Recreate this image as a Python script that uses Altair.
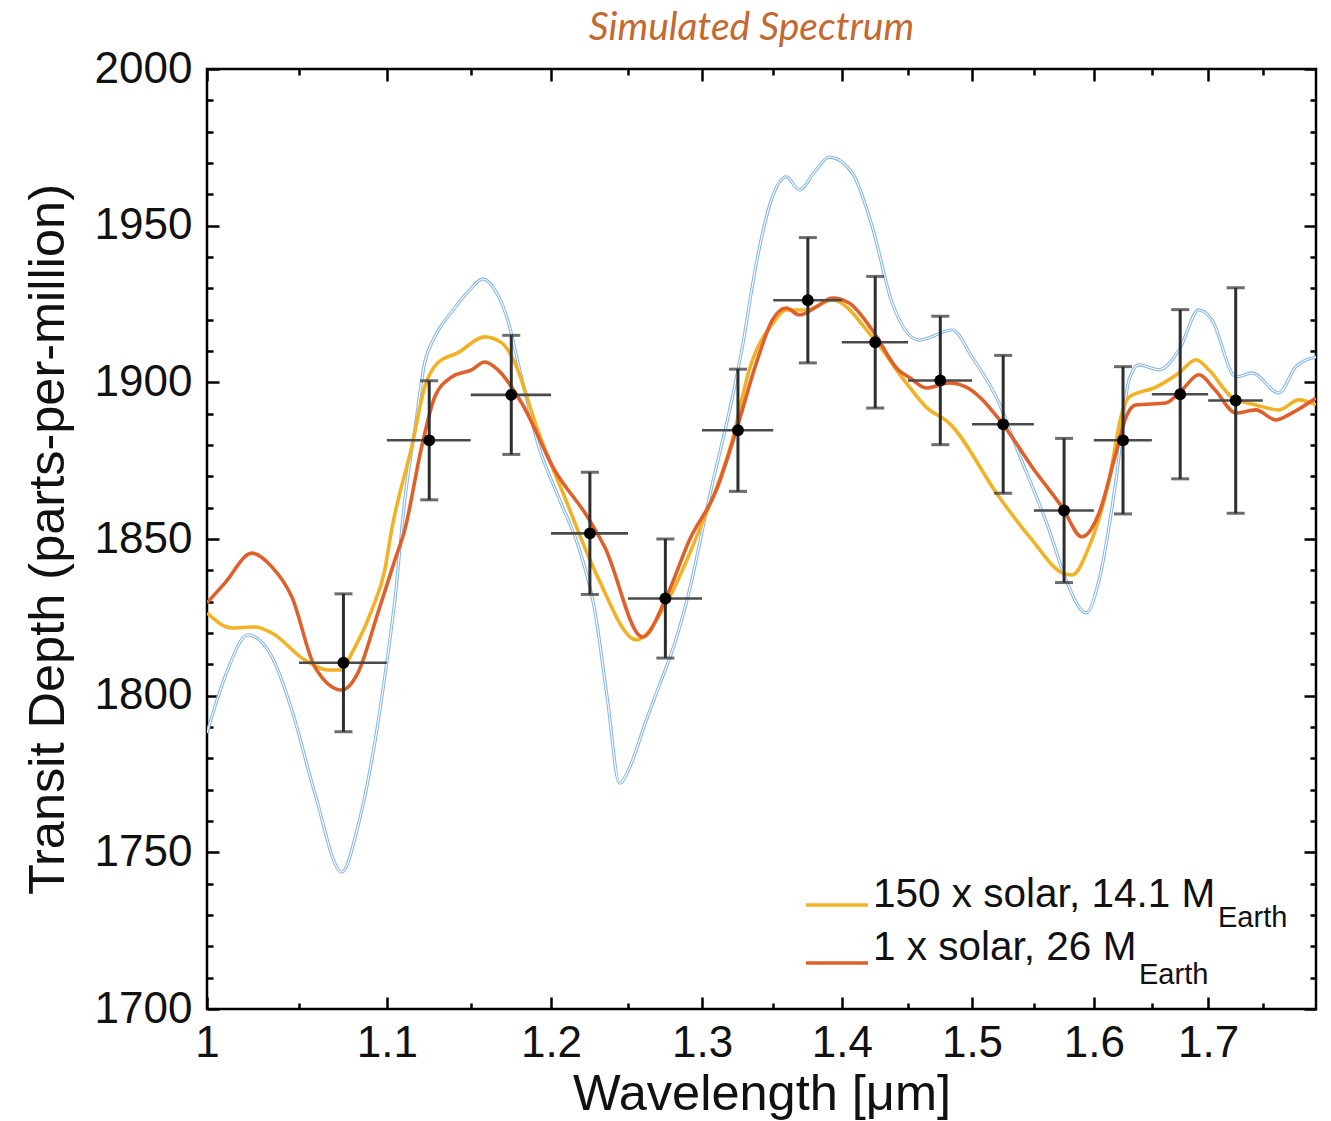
import altair as alt
import pandas as pd

# ---------------- data ----------------
# thin blue model curve
blue_wl = [1.000, 1.0096, 1.0220, 1.0350, 1.0460, 1.0588, 1.0741, 1.0832, 1.0913, 1.0988,
           1.1047, 1.1105, 1.1164, 1.1223, 1.1283, 1.1385, 1.1494, 1.1574, 1.1648, 1.1722,
           1.1803, 1.1915, 1.2055, 1.2183, 1.2281, 1.2365, 1.2444, 1.2523, 1.2610, 1.2710,
           1.2812, 1.2914, 1.3051, 1.3211, 1.3281, 1.3380, 1.3494, 1.3594, 1.3688, 1.3800,
           1.3907, 1.4078, 1.4228, 1.4379, 1.4586, 1.4843, 1.5000, 1.5217, 1.5355, 1.5626,
           1.5767, 1.5935, 1.6045, 1.6190, 1.6302, 1.6388, 1.6562, 1.6739, 1.6917, 1.7034,
           1.7252, 1.7400, 1.7649, 1.7808, 1.8000]
blue_ppm = [1788.1, 1806.0, 1819.4, 1812.4, 1795.4, 1768.9, 1743.7, 1758.1, 1779.5, 1806.0,
            1830.5, 1862.5, 1884.8, 1906.2, 1914.5, 1922.5, 1929.5, 1933.0, 1929.5, 1920.9,
            1904.0, 1880.7, 1862.5, 1846.5, 1827.4, 1798.6, 1772.1, 1778.5, 1790.6, 1803.4,
            1816.5, 1833.7, 1863.4, 1895.3, 1911.3, 1938.1, 1959.2, 1965.6, 1961.4, 1967.2,
            1971.9, 1966.8, 1949.6, 1925.3, 1913.5, 1916.7, 1908.1, 1893.4, 1879.4, 1852.9,
            1836.9, 1826.4, 1836.9, 1868.8, 1900.8, 1905.6, 1904.0, 1910.3, 1923.1, 1919.9,
            1901.7, 1903.0, 1896.6, 1904.9, 1908.1]

# 150 x solar, 14.1 M_Earth (yellow)
yel_wl = [1.000, 1.0133, 1.0258, 1.0350, 1.0532, 1.0662, 1.0741, 1.0798, 1.0913, 1.0988,
          1.1028, 1.1146, 1.1223, 1.1300, 1.1421, 1.1586, 1.1691, 1.1772, 1.1915, 1.2087,
          1.2300, 1.2557, 1.2757, 1.2982, 1.3211, 1.3330, 1.3500, 1.3594, 1.3739, 1.3930,
          1.4228, 1.4486, 1.4640, 1.4820, 1.5217, 1.5485, 1.5733, 1.5817, 1.5960, 1.6130,
          1.6241, 1.6302, 1.6536, 1.6739, 1.6892, 1.7006, 1.7215, 1.7435, 1.7649, 1.7837,
          1.8000]
yel_ppm = [1826.4, 1821.6, 1821.9, 1820.0, 1811.4, 1808.2, 1808.2, 1813.6, 1827.4, 1840.1,
           1852.9, 1879.4, 1898.5, 1906.2, 1909.4, 1914.5, 1912.6, 1906.2, 1884.8, 1863.4,
           1837.9, 1817.8, 1829.6, 1852.9, 1881.6, 1904.0, 1919.0, 1923.1, 1923.1, 1926.3,
           1914.5, 1899.8, 1892.1, 1887.0, 1863.4, 1849.7, 1839.2, 1838.5, 1847.5, 1868.8,
           1890.2, 1895.3, 1898.5, 1903.0, 1907.2, 1904.0, 1895.3, 1892.8, 1891.2, 1894.4,
           1892.8]

# 1 x solar, 26 M_Earth (red)
red_wl = [1.000, 1.0096, 1.0241, 1.0350, 1.0460, 1.0588, 1.0741, 1.0832, 1.0948, 1.1047,
          1.1105, 1.1205, 1.1283, 1.1385, 1.1506, 1.1586, 1.1667, 1.1815, 1.2023, 1.2235,
          1.2346, 1.2597, 1.2757, 1.2914, 1.3100, 1.3239, 1.3380, 1.3494, 1.3594, 1.3688,
          1.3812, 1.3930, 1.4054, 1.4228, 1.4424, 1.4516, 1.4640, 1.4820, 1.4954, 1.5241,
          1.5485, 1.5733, 1.5900, 1.6045, 1.6190, 1.6277, 1.6363, 1.6624, 1.6766, 1.6917,
          1.7061, 1.7252, 1.7435, 1.7620, 1.7770, 1.8000]
red_ppm = [1829.6, 1836.0, 1845.5, 1841.1, 1831.5, 1809.2, 1801.8, 1807.2, 1826.4, 1843.3,
           1852.9, 1879.4, 1895.3, 1901.7, 1904.0, 1906.5, 1904.0, 1893.4, 1872.0, 1857.0,
           1847.5, 1818.7, 1831.5, 1849.7, 1865.7, 1884.8, 1906.2, 1919.9, 1923.7, 1921.5,
           1924.1, 1926.9, 1925.3, 1916.7, 1904.0, 1901.4, 1898.2, 1899.8, 1898.5, 1887.0,
           1873.0, 1860.2, 1850.7, 1858.3, 1877.5, 1889.0, 1892.8, 1893.4, 1897.6, 1902.4,
           1897.6, 1890.2, 1891.2, 1888.0, 1890.2, 1895.0]

# simulated data points
pt_wl = [1.075, 1.125, 1.175, 1.225, 1.275, 1.325, 1.375, 1.425, 1.475, 1.525, 1.575, 1.625, 1.675, 1.725]
pt_ppm = [1810.5, 1881.5, 1896.0, 1851.8, 1831.0, 1884.7, 1926.2, 1912.8, 1900.6, 1886.6, 1859.1, 1881.5, 1896.2, 1894.2]
pt_err = [22.0, 19.0, 19.0, 19.5, 19.0, 19.5, 20.0, 21.0, 20.5, 22.0, 23.0, 23.5, 27.0, 36.0]
bin_lo = [1.05, 1.10, 1.15, 1.20, 1.25, 1.30, 1.35, 1.40, 1.45, 1.50, 1.55, 1.60, 1.65, 1.70]
bin_hi = [1.10, 1.15, 1.20, 1.25, 1.30, 1.35, 1.40, 1.45, 1.50, 1.55, 1.60, 1.65, 1.70, 1.75]

# ticks and texts
x_major = [1.0, 1.1, 1.2, 1.3, 1.4, 1.5, 1.6, 1.7]
x_minor = [1.05, 1.15, 1.25, 1.35, 1.45, 1.55, 1.65, 1.75]
y_major = [1700, 1750, 1800, 1850, 1900, 1950, 2000]
y_minor = [1710, 1720, 1730, 1740, 1760, 1770, 1780, 1790, 1810, 1820, 1830, 1840,
           1860, 1870, 1880, 1890, 1910, 1920, 1930, 1940, 1960, 1970, 1980, 1990]
legend_main = ["150 x solar, 14.1 M", "1 x solar, 26 M"]
legend_sub = ["Earth", "Earth"]
title_text = "Simulated Spectrum"
x_title = "Wavelength [\u03bcm]"
y_title = "Transit Depth (parts-per-million)"

# ---------------- styling ----------------
FONT = "Liberation Sans"
W, H = 1109, 940
BLUE = "#86b6e3"
YELLOW = "#f2b226"
RED = "#e0602b"
INK = "#111111"

xs = alt.Scale(type="log", domain=[1.0, 1.8], nice=False)
ys = alt.Scale(domain=[1700, 2000], nice=False, zero=False)

df_blue = pd.DataFrame({"wl": blue_wl, "ppm": blue_ppm})
df_yel = pd.DataFrame({"wl": yel_wl, "ppm": yel_ppm})
df_red = pd.DataFrame({"wl": red_wl, "ppm": red_ppm})
df_pts = pd.DataFrame({
    "wl": pt_wl, "ppm": pt_ppm,
    "lo": [p - e for p, e in zip(pt_ppm, pt_err)],
    "hi": [p + e for p, e in zip(pt_ppm, pt_err)],
    "blo": bin_lo, "bhi": bin_hi,
})
one = pd.DataFrame({"k": [0]})


def xq(f="wl"):
    return alt.X(f"{f}:Q", scale=xs, axis=None)


def yq(f="ppm"):
    return alt.Y(f"{f}:Q", scale=ys, axis=None)


def line(df, color, width):
    return alt.Chart(df).mark_line(color=color, strokeWidth=width, interpolate="monotone",
                                   clip=True).encode(x=xq(), y=yq())


common = dict(domain=False, grid=False, tickColor="black", tickWidth=2.5)
lab = dict(labelFont=FONT, labelFontSize=44, labelColor=INK)
ttl = dict(titleFont=FONT, titleFontSize=50.5, titleFontWeight="normal", titleColor=INK)

ax_bottom = alt.Axis(orient="bottom", values=x_major, format=".1~f", tickSize=12, offset=-12,
                     labelPadding=12, labelFlush=False, labelOverlap=False,
                     title=x_title, titleBaseline="alphabetic", titleY=112, **lab, **ttl, **common)
ax_left = alt.Axis(orient="left", values=y_major, format="d", tickSize=12, offset=-12,
                   labelPadding=15, labelFlush=False, labelOverlap=False,
                   title=y_title, titleAngle=270, titleBaseline="alphabetic", titleX=-156,
                   **lab, **ttl, **common)
ax_bottom_minor = alt.Axis(orient="bottom", values=x_minor, tickSize=6, offset=-6, labels=False, title="", **common)
ax_left_minor = alt.Axis(orient="left", values=y_minor, tickSize=6, offset=-6, labels=False, title="", **common)
ax_top = alt.Axis(orient="top", values=x_major, tickSize=12, offset=-12, labels=False, title="", **common)
ax_right = alt.Axis(orient="right", values=y_major, tickSize=12, offset=-12, labels=False, title="", **common)
ax_top_minor = alt.Axis(orient="top", values=x_minor, tickSize=6, offset=-6, labels=False, title="", **common)
ax_right_minor = alt.Axis(orient="right", values=y_minor, tickSize=6, offset=-6, labels=False, title="", **common)


def axes_layer(xa, ya):
    return alt.Chart(df_pts).mark_point(opacity=0).encode(
        x=alt.X("wl:Q", scale=xs, axis=xa),
        y=alt.Y("ppm:Q", scale=ys, axis=ya),
    )


LEG_MAIN = dict(align="left", baseline="alphabetic", font=FONT, fontSize=40.5, color=INK)
LEG_SUB = dict(align="left", baseline="alphabetic", font=FONT, fontSize=29, color=INK)

layers = [
    axes_layer(ax_bottom, ax_left),
    axes_layer(ax_bottom_minor, ax_left_minor),
    axes_layer(ax_top, ax_right),
    axes_layer(ax_top_minor, ax_right_minor),
    line(df_blue, BLUE, 3.2),
    line(df_blue, "white", 1.1),
    line(df_yel, YELLOW, 3.6),
    line(df_red, RED, 3.6),
    alt.Chart(df_pts).mark_rule(color="#4a4a4a", strokeWidth=2.6).encode(
        x=xq("blo"), x2=alt.X2("bhi:Q"), y=yq()),
    alt.Chart(df_pts).mark_rule(color="#2e2e2e", strokeWidth=3).encode(
        x=xq(), y=yq("lo"), y2=alt.Y2("hi:Q")),
    alt.Chart(df_pts).mark_tick(orient="horizontal", size=18, thickness=3, color="#2e2e2e").encode(
        x=xq(), y=yq("lo")),
    alt.Chart(df_pts).mark_tick(orient="horizontal", size=18, thickness=3, color="#2e2e2e").encode(
        x=xq(), y=yq("hi")),
    alt.Chart(df_pts).mark_circle(size=140, color="black", opacity=1).encode(x=xq(), y=yq()),
    # legend (drawn by hand to allow the subscripts)
    alt.Chart(one).mark_rule(color=YELLOW, strokeWidth=3.6).encode(
        x=alt.value(599), x2=alt.value(661), y=alt.value(836)),
    alt.Chart(one).mark_rule(color=RED, strokeWidth=3.6).encode(
        x=alt.value(599), x2=alt.value(661), y=alt.value(894)),
    alt.Chart(one).mark_text(**LEG_MAIN).encode(
        x=alt.value(666), y=alt.value(838), text=alt.value(legend_main[0])),
    alt.Chart(one).mark_text(**LEG_SUB).encode(
        x=alt.value(1011), y=alt.value(858), text=alt.value(legend_sub[0])),
    alt.Chart(one).mark_text(**LEG_MAIN).encode(
        x=alt.value(666), y=alt.value(891), text=alt.value(legend_main[1])),
    alt.Chart(one).mark_text(**LEG_SUB).encode(
        x=alt.value(932), y=alt.value(915), text=alt.value(legend_sub[1])),
]

chart = alt.layer(*layers).resolve_axis(
    x="independent", y="independent"
).properties(
    width=W, height=H,
    title=alt.TitleParams(title_text, font="Lato", fontStyle="italic", fontSize=39,
                          fontWeight="normal", color="#c4692f", anchor="middle",
                          frame="group", baseline="alphabetic", offset=4, dy=36, dx=-10),
    autosize=alt.AutoSizeParams(type="none"),
    padding={"left": 207, "top": 69, "right": 15, "bottom": 112},
).configure_view(stroke="black", strokeWidth=2.5)

chart.save("out.html", embed_options={"renderer": "svg", "actions": False})
